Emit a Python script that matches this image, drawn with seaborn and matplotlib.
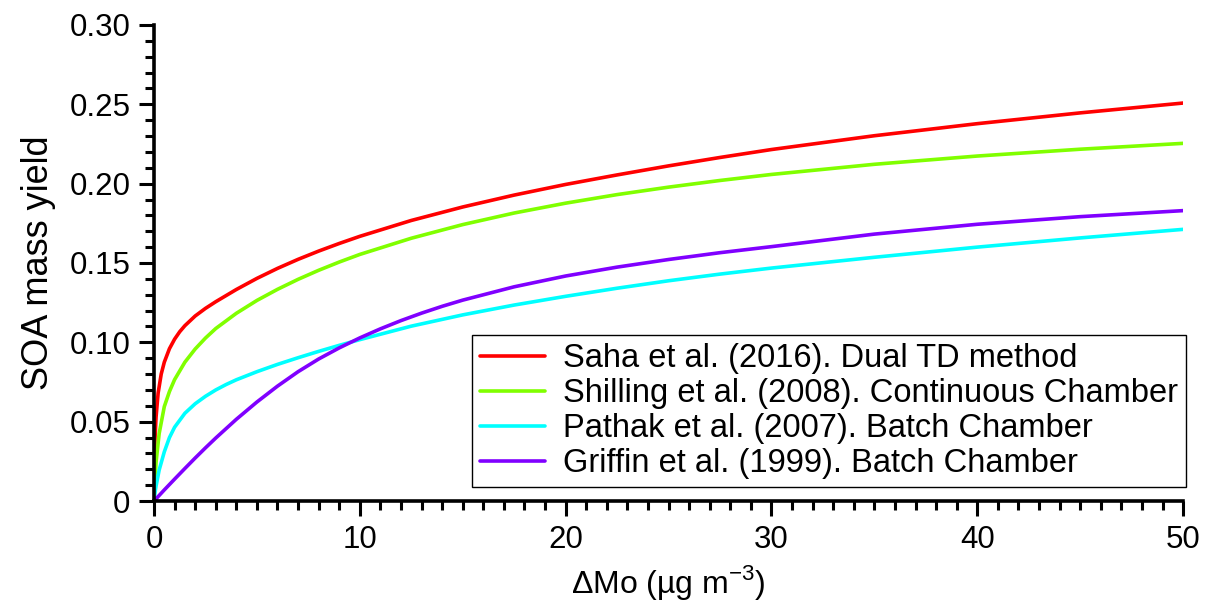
import numpy as np
import pandas as pd
import matplotlib
matplotlib.use("Agg")
import matplotlib.pyplot as plt
from matplotlib.ticker import MultipleLocator, FixedLocator, FixedFormatter
import seaborn as sns

# SOA mass yield curves vs. organic aerosol mass loading (ΔMo, µg m^-3)
labels = [
    "Saha et al. (2016). Dual TD method",
    "Shilling et al. (2008). Continuous Chamber",
    "Pathak et al. (2007). Batch Chamber",
    "Griffin et al. (1999). Batch Chamber",
]
colors = ["#ff0000", "#80ff00", "#00ffff", "#8000ff"]

saha_x = [0, 0.01, 0.02, 0.05, 0.1, 0.2, 0.35, 0.5, 0.75, 1, 1.25, 1.5, 2,
          2.5, 3, 4, 5, 6, 7, 8, 9, 10, 12.5, 15, 17.5, 20, 22.5, 25, 27.5,
          30, 35, 40, 45, 50]
saha_y = [0, 0.016, 0.025, 0.040, 0.053, 0.068, 0.080, 0.0875, 0.0960,
          0.1020, 0.1067, 0.1105, 0.1166, 0.1214, 0.1256, 0.1333, 0.1403,
          0.1466, 0.1523, 0.1575, 0.1623, 0.1668, 0.1768, 0.1853, 0.1928,
          0.1995, 0.2055, 0.2112, 0.2165, 0.2215, 0.2302, 0.2378, 0.2446,
          0.2508]

shilling_x = [0, 0.05, 0.1, 0.25, 0.5, 0.75, 1, 1.5, 2, 2.5, 3, 4, 5, 6, 7,
              8, 9, 10, 12.5, 15, 17.5, 20, 22.5, 25, 27.5, 30, 35, 40, 45,
              50]
shilling_y = [0, 0.014, 0.0245, 0.0425, 0.0595, 0.069, 0.0765, 0.0875,
              0.0958, 0.1027, 0.1087, 0.1183, 0.1264, 0.1334, 0.1397, 0.1454,
              0.1506, 0.1554, 0.1656, 0.1742, 0.1815, 0.1877, 0.1931, 0.1978,
              0.2020, 0.2058, 0.2122, 0.2174, 0.2217, 0.2254]

pathak_x = [0, 0.05, 0.1, 0.25, 0.5, 0.75, 1, 1.5, 2, 2.5, 3, 3.5, 4, 5, 6,
            7, 8, 9, 10, 12.5, 15, 17.5, 20, 22.5, 25, 27.5, 30, 35, 40, 45,
            50]
pathak_y = [0, 0.0055, 0.0095, 0.0195, 0.031, 0.040, 0.0465, 0.0553, 0.0613,
            0.0660, 0.0700, 0.0734, 0.0764, 0.0815, 0.0861, 0.0903, 0.0943,
            0.0981, 0.1017, 0.1102, 0.1173, 0.1235, 0.1290, 0.1341, 0.1388,
            0.1430, 0.1468, 0.1536, 0.1600, 0.1658, 0.1712]

griffin_x = [0, 0.5, 1, 1.5, 2, 2.5, 3, 4, 5, 6, 7, 8, 9, 10, 11, 12, 13, 14,
             15, 17.5, 20, 22.5, 25, 27.5, 30, 35, 40, 45, 50]
griffin_y = [0, 0.0070, 0.0138, 0.0205, 0.0271, 0.0335, 0.0397, 0.0515,
             0.0624, 0.0724, 0.0815, 0.0895, 0.0965, 0.1028, 0.1085, 0.1137,
             0.1184, 0.1227, 0.1266, 0.1350, 0.1418, 0.1474, 0.1522, 0.1565,
             0.1603, 0.1682, 0.1744, 0.1792, 0.1830]

y_ticks = [0, 0.05, 0.10, 0.15, 0.20, 0.25, 0.30]
y_tick_labels = ["0", "0.05", "0.10", "0.15", "0.20", "0.25", "0.30"]
x_ticks = [0, 10, 20, 30, 40, 50]

frames = []
for lab, xs, ys in zip(labels,
                       [saha_x, shilling_x, pathak_x, griffin_x],
                       [saha_y, shilling_y, pathak_y, griffin_y]):
    frames.append(pd.DataFrame({"dMo": xs, "yield": ys, "study": lab}))
df = pd.concat(frames, ignore_index=True)

sns.set_theme(style="ticks")
plt.rcParams["font.family"] = ["Liberation Sans", "DejaVu Sans"]
plt.rcParams["mathtext.fontset"] = "custom"
plt.rcParams["mathtext.rm"] = "Liberation Sans"
plt.rcParams["text.color"] = "black"
plt.rcParams["axes.labelcolor"] = "black"
plt.rcParams["lines.solid_capstyle"] = "round"
plt.rcParams["lines.solid_joinstyle"] = "round"

fig = plt.figure(figsize=(12.06, 6.09), dpi=100)
ax = fig.add_axes([0.1277, 0.1773, 0.8533, 0.7817])

sns.lineplot(data=df, x="dMo", y="yield", hue="study", hue_order=labels,
             palette=colors, linewidth=2.6, ax=ax, estimator=None,
             sort=True, legend=True)

ax.set_xlim(0, 50)
ax.set_ylim(0, 0.30)

ax.xaxis.set_major_locator(FixedLocator(x_ticks))
ax.xaxis.set_minor_locator(MultipleLocator(1))
ax.yaxis.set_major_locator(FixedLocator(y_ticks))
ax.yaxis.set_major_formatter(FixedFormatter(y_tick_labels))
ax.yaxis.set_minor_locator(MultipleLocator(0.01))

ax.tick_params(axis="both", which="major", length=11, width=2.2,
               labelsize=22.5, color="black", labelcolor="black", pad=6,
               direction="out")
ax.tick_params(axis="both", which="minor", length=6.5, width=2.2,
               color="black", direction="out")

for side in ["top", "right"]:
    ax.spines[side].set_visible(False)
for side in ["left", "bottom"]:
    ax.spines[side].set_linewidth(2.6)
    ax.spines[side].set_color("black")

ax.set_xlabel(r"$\Delta$Mo (µg m$^{-3}$)", fontsize=23, color="black",
              labelpad=6)
ax.set_ylabel("SOA mass yield", fontsize=26, color="black", labelpad=10)

handles, hl = ax.get_legend_handles_labels()
leg = ax.legend(handles, hl, loc="lower right",
                bbox_to_anchor=(1.003, 0.029), borderaxespad=0,
                fontsize=23.5, frameon=True, fancybox=False, framealpha=1,
                edgecolor="black", handlelength=2.0, handletextpad=0.55,
                labelspacing=0.12, borderpad=0.25)
leg.get_frame().set_linewidth(1.0)
for line in leg.get_lines():
    line.set_linewidth(2.6)
for txt in leg.get_texts():
    txt.set_color("black")

fig.savefig("out.png", dpi=100, facecolor="white")
